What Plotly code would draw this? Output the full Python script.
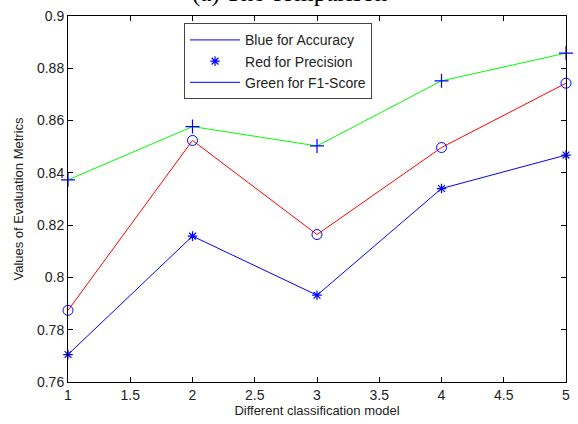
import plotly.graph_objects as go

models = [1, 2, 3, 4, 5]
accuracy = [0.7705, 0.8158, 0.7932, 0.8340, 0.8468]
precision = [0.7874, 0.8524, 0.8164, 0.8497, 0.8743]
f1_score = [0.8373, 0.8577, 0.8503, 0.8752, 0.8858]
x_ticks = [1, 1.5, 2, 2.5, 3, 3.5, 4, 4.5, 5]
y_ticks = [0.76, 0.78, 0.8, 0.82, 0.84, 0.86, 0.88, 0.9]
legend_labels = ["Blue for Accuracy", "Red for Precision", "Green for F1-Score"]
title_text = "(a) The comparison"

BLUE = "rgb(0,0,255)"
RED = "rgb(255,0,0)"
GREEN = "rgb(0,255,0)"
FONT = "Liberation Sans, Arial, sans-serif"

fig = go.Figure()

# data lines
fig.add_trace(go.Scatter(x=models, y=f1_score, mode="lines+markers",
                         line=dict(color=GREEN, width=1),
                         marker=dict(symbol="cross-thin-open", size=10, color=BLUE,
                                     line=dict(color=BLUE, width=1.2)),
                         showlegend=False, cliponaxis=False))
fig.add_trace(go.Scatter(x=models, y=precision, mode="lines+markers",
                         line=dict(color=RED, width=1),
                         marker=dict(symbol="circle-open", size=10, color=BLUE,
                                     line=dict(color=BLUE, width=1)),
                         showlegend=False, cliponaxis=False))
fig.add_trace(go.Scatter(x=models, y=accuracy, mode="lines+markers",
                         line=dict(color=BLUE, width=1),
                         marker=dict(symbol="asterisk-open", size=8, color=BLUE,
                                     line=dict(color=BLUE, width=1.2)),
                         showlegend=False, cliponaxis=False))

# legend entries (as drawn in the original figure)
fig.add_trace(go.Scatter(x=[None], y=[None], mode="lines", name=legend_labels[0],
                         line=dict(color=BLUE, width=1)))
fig.add_trace(go.Scatter(x=[None], y=[None], mode="markers", name=legend_labels[1],
                         marker=dict(symbol="asterisk-open", size=8, color=BLUE,
                                     line=dict(color=BLUE, width=1.2))))
fig.add_trace(go.Scatter(x=[None], y=[None], mode="lines", name=legend_labels[2],
                         line=dict(color=BLUE, width=1)))

axis_common = dict(
    showline=True, linecolor="black", linewidth=1, mirror="ticks",
    ticks="inside", ticklen=5, tickcolor="black", tickwidth=1,
    showgrid=False, zeroline=False,
    tickfont=dict(family=FONT, size=14, color="#222"),
)

fig.update_xaxes(range=[1, 5], tickvals=x_ticks, ticktext=[f"{v:g}" for v in x_ticks],
                 title=dict(text="Different classification model",
                            font=dict(family=FONT, size=13, color="#222"), standoff=4),
                 **axis_common)
fig.update_yaxes(range=[0.76, 0.9], tickvals=y_ticks, ticktext=[f"{v:g}" for v in y_ticks],
                 title=dict(text="Values of Evaluation Metrics",
                            font=dict(family=FONT, size=13, color="#222"), standoff=10),
                 **axis_common)

fig.add_annotation(text=title_text, xref="paper", yref="paper",
                   x=(191 - 68) / 502, y=1.0, yshift=7, xanchor="left", yanchor="bottom",
                   showarrow=False, font=dict(family="Liberation Serif, Times New Roman, serif",
                                               size=25, color="black"))

fig.update_layout(
    width=578, height=424,
    margin=dict(l=68, r=8, t=15, b=39),
    paper_bgcolor="white", plot_bgcolor="white",
    legend=dict(x=0.233, y=0.98, xanchor="left", yanchor="top",
                bordercolor="#444", borderwidth=1, bgcolor="white",
                font=dict(family=FONT, size=14, color="#222"),
                itemwidth=50, tracegroupgap=0),
    showlegend=True,
)

fig.write_html("out.html")
